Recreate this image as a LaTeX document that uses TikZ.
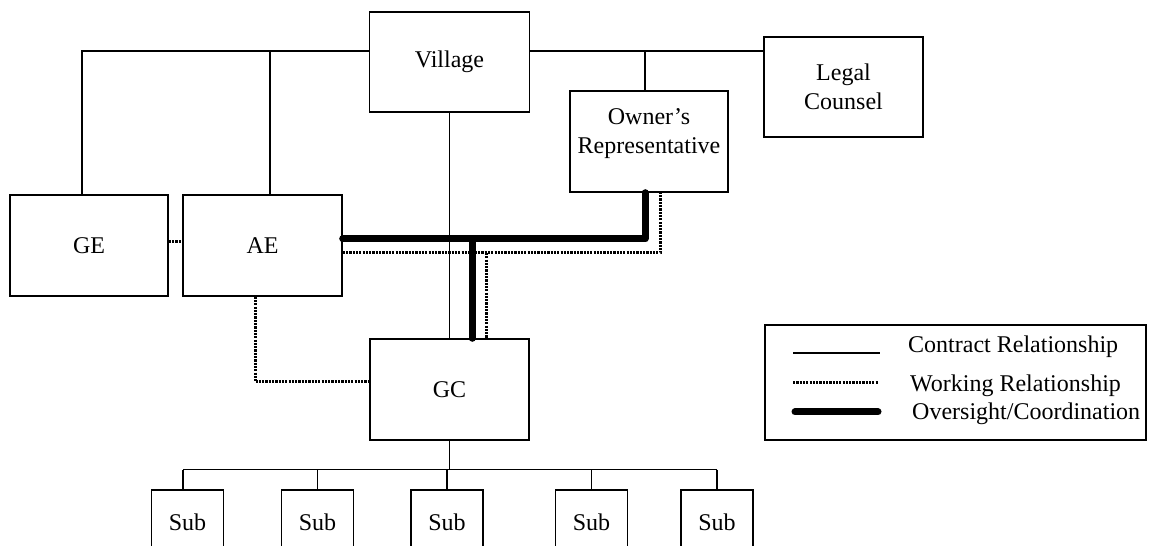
\documentclass[tikz,border=0pt]{standalone}
\usepackage{fontspec}
\setmainfont{Liberation Serif}
\begin{document}
\begin{tikzpicture}[x=1pt,y=1pt,
  font=\fontsize{24}{29}\selectfont,
  box/.style={draw, line width=1.4pt, minimum width=#1, minimum height=101pt, inner sep=0pt, align=center},
  subbox/.style={draw, line width=1.4pt, minimum width=72pt, minimum height=64pt, inner sep=0pt},
  contract/.style={line width=1.4pt},
  working/.style={line width=3pt, dash pattern=on 2.2pt off 1.1pt},
  oversight/.style={line width=7pt, line cap=round, line join=round}]
\useasboundingbox (0,0) rectangle (1149,546);
\clip (0,0) rectangle (1149,546);

% boxes
\node[box=160pt, minimum height=100pt] (village) at (449.5,484) {Village};
\node[box=159pt, minimum height=100pt] (legal) at (843.5,459) {Legal\\Counsel};
\node[box=158pt] (owner) at (649,404.5) {};
\node[align=center] (ownertext) at (649,412.5) {Owner’s\\Representative};
\node[box=158pt] (ge) at (89,300.5) {GE};
\node[box=159pt] (ae) at (262.5,300.5) {AE};
\node[box=159pt] (gc) at (449.5,156.5) {GC};
\node[subbox] (s1) at (187.5,24) {Sub};
\node[subbox] (s2) at (317.5,24) {Sub};
\node[subbox] (s3) at (447,24) {Sub};
\node[subbox] (s4) at (591.5,24) {Sub};
\node[subbox] (s5) at (717,24) {Sub};
\node[draw, line width=1.4pt, minimum width=381pt, minimum height=115pt, inner sep=0pt] (legend) at (955.5,163.5) {};

% contract lines
\coordinate (vL) at ([yshift=11pt]village.west);
\coordinate (vR) at ([yshift=11pt]village.east);
\coordinate (geT) at ([xshift=-7pt]ge.north);
\coordinate (aeT) at ([xshift=7.5pt]ae.north);
\coordinate (owT) at ([xshift=-4pt]owner.north);
\draw[contract] (geT) |- (vL);
\draw[contract] (aeT) -- (aeT |- vL);
\draw[contract] (vR) -- (vR -| legal.west);
\draw[contract] (owT) -- (owT |- vR);
\draw[contract] (village.south) -- (gc.north);
\coordinate (bus) at ([yshift=-29pt]gc.south);
\coordinate (s1T) at ([xshift=-4.5pt]s1.north);
\draw[contract] (gc.south) -- (bus);
\draw[contract] (s1T |- bus) -- (s5.north |- bus);
\draw[contract] (s1T |- bus) -- (s1T);
\draw[contract] (s2.north |- bus) -- (s2.north);
\draw[contract] (s3.north |- bus) -- (s3.north);
\draw[contract] (s4.north |- bus) -- (s4.north);
\draw[contract] (s5.north |- bus) -- (s5.north);

% oversight
\coordinate (thkL) at ([yshift=6.5pt]ae.east);
\coordinate (thkR) at ([xshift=-4pt]owner.south);
\coordinate (thkD) at ([xshift=22.5pt]gc.north);
\draw[oversight] (thkL) -| (thkR);
\draw[oversight] (thkD |- thkL) -- (thkD);

% working
\coordinate (dotL) at ([yshift=-7.5pt]ae.east);
\coordinate (dotR) at ([xshift=11pt]owner.south);
\coordinate (dotD) at ([xshift=36.5pt]gc.north);
\draw[working] (dotL) -| (dotR);
\draw[working] (dotD |- dotL) -- (dotD);
\draw[working] ([yshift=3.5pt]ge.east) -- ([yshift=3.5pt]ae.west);
\draw[working] ([xshift=-7.5pt]ae.south) |- ([yshift=7.5pt]gc.west);

% legend
\coordinate (l1a) at (793,193); \coordinate (l1b) at (880,193);
\coordinate (l2a) at (793,163); \coordinate (l2b) at (878,163);
\coordinate (l3a) at (795,134); \coordinate (l3b) at (878,134);
\draw[contract] (l1a) -- (l1b);
\draw[working] (l2a) -- (l2b);
\draw[oversight] (l3a) -- (l3b);
\node[anchor=base west, inner sep=0pt] (t1) at (908,193) {Contract Relationship};
\node[anchor=base west, inner sep=0pt] (t2) at (910,154) {Working Relationship};
\node[anchor=base west, inner sep=0pt] (t3) at (912,126) {Oversight/Coordination};
\end{tikzpicture}
\end{document}
